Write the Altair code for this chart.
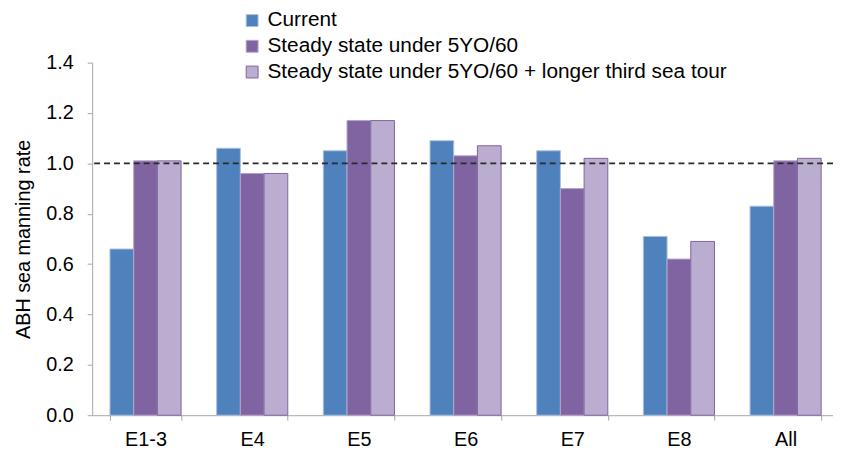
import altair as alt
import pandas as pd

categories = ["E1-3", "E4", "E5", "E6", "E7", "E8", "All"]
series = [
    "Current",
    "Steady state under 5YO/60",
    "Steady state under 5YO/60 + longer third sea tour",
]
current = [0.66, 1.06, 1.05, 1.09, 1.05, 0.71, 0.83]
steady = [1.01, 0.96, 1.17, 1.03, 0.90, 0.62, 1.01]
longer = [1.01, 0.96, 1.17, 1.07, 1.02, 0.69, 1.02]
y_ticks = [0.0, 0.2, 0.4, 0.6, 0.8, 1.0, 1.2, 1.4]
reference = [1.0]

rows = []
for s, vals in zip(series, [current, steady, longer]):
    for c, v in zip(categories, vals):
        rows.append({"grade": c, "series": s, "rate": v})
df = pd.DataFrame(rows)
ref_df = pd.DataFrame({"ref": reference})

fills = ["#4F81BD", "#8064A2", "#BBADCF"]
strokes = ["#A9C0E0", "#B4A3C9", "#8064A2"]

legend = alt.Legend(
    title=None,
    orient="none",
    legendX=151,
    legendY=-53,
    symbolType="square",
    symbolSize=144,
    symbolStrokeWidth=1,
    labelFontSize=21,
    labelColor="black",
    labelFont="Liberation Sans",
    labelLimit=0,
    labelOffset=5,
    rowPadding=4,
    padding=0,
)

bars = alt.Chart(df).mark_bar(strokeWidth=1).encode(
    x=alt.X(
        "grade:N",
        sort=categories,
        title=None,
        scale=alt.Scale(paddingInner=0.3333, paddingOuter=0.1667, range=[0, 754]),
        axis=alt.Axis(tickBand="extent", labelAngle=0, labelPadding=10, tickSize=5),
    ),
    xOffset=alt.XOffset(
        "series:N", sort=series, scale=alt.Scale(paddingInner=0, paddingOuter=0)
    ),
    y=alt.Y(
        "rate:Q",
        scale=alt.Scale(domain=[0, 1.4], nice=False),
        axis=alt.Axis(
            values=y_ticks,
            format=".1f",
            title="ABH sea manning rate",
            labelPadding=14,
            titlePadding=12,
            tickSize=5,
        ),
    ),
    fill=alt.Fill("series:N", sort=series, scale=alt.Scale(domain=series, range=fills), legend=legend),
    stroke=alt.Stroke("series:N", sort=series, scale=alt.Scale(domain=series, range=strokes), legend=legend),
)

rule = alt.Chart(ref_df).mark_rule(color="#2B2B2B", strokeWidth=2, strokeDash=[6, 4]).encode(
    y=alt.Y("ref:Q")
)

chart = (
    alt.layer(bars, rule)
    .properties(
        width=748,
        height=356,
        autosize=alt.AutoSizeParams(type="none"),
        padding={"left": 85, "top": 53, "right": 0, "bottom": 39},
    )
    .configure(font="Liberation Sans")
    .configure_view(stroke=None)
    .configure_axis(
        grid=False,
        domainColor="#A6A6A6",
        tickColor="#A6A6A6",
        labelColor="black",
        labelFontSize=20,
        labelFont="Liberation Sans",
        titleFont="Liberation Sans",
        titleFontSize=20,
        titleFontWeight="normal",
        titleColor="black",
    )
)

chart.save("out.html", embed_options={"renderer": "svg", "actions": False})
